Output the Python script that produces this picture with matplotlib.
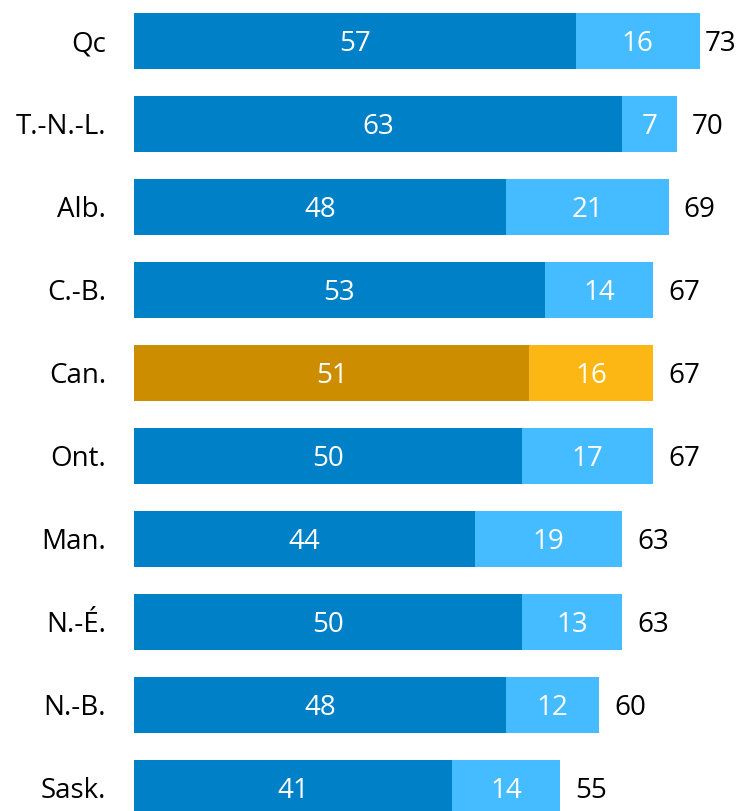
import numpy as np
import matplotlib
matplotlib.use("Agg")
import matplotlib.pyplot as plt

plt.rcParams['font.family'] = ['Open Sans', 'DejaVu Sans']

provinces = ['Qc', 'T.-N.-L.', 'Alb.', 'C.-B.', 'Can.', 'Ont.', 'Man.', 'N.-É.', 'N.-B.', 'Sask.']
first = [57, 63, 48, 53, 51, 50, 44, 50, 48, 41]
second = [16, 7, 21, 14, 16, 17, 19, 13, 12, 14]
totals = [73, 70, 69, 67, 67, 67, 63, 63, 60, 55]

dark = ['#0080C6'] * len(provinces)
light = ['#45BCFF'] * len(provinces)
i = provinces.index('Can.')
dark[i] = '#CC8E00'
light[i] = '#FDB714'

fig = plt.figure(figsize=(7.48, 8.11), dpi=100)
ax = fig.add_axes([134 / 748, 0, 614 / 748, 1])

y = np.arange(len(provinces))
h = 56 / 83
ax.barh(y, first, height=h, color=dark)
ax.barh(y, second, left=first, height=h, color=light)

dy = 0.04  # text sits slightly below bar centre
for k in range(len(provinces)):
    ax.text(first[k] / 2, y[k] + dy, str(first[k]), ha='center', va='center',
            color='white', fontsize=20)
    ax.text(first[k] + second[k] / 2, y[k] + dy, str(second[k]), ha='center', va='center',
            color='white', fontsize=20)
    ax.text(min(totals[k] + 1.95, 73.7), y[k] + dy, str(totals[k]), ha='left', va='center',
            color='black', fontsize=20)
    ax.text(-3.6, y[k] + dy, provinces[k], ha='right', va='center',
            color='black', fontsize=20, clip_on=False)

ax.set_xlim(0, 614 / 7.75)
ax.set_ylim((811 - 41) / 83, -41 / 83)
ax.axis('off')

fig.savefig('out.png', dpi=100)
